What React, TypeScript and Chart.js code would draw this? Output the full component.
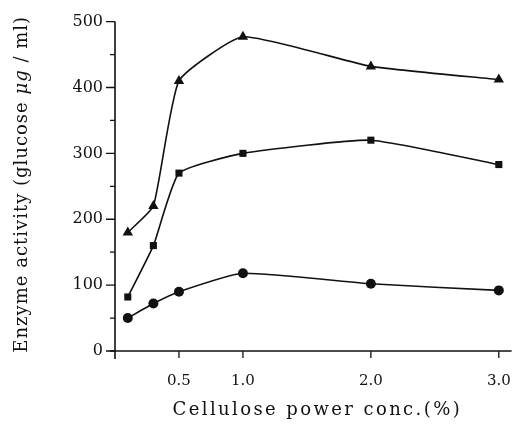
import React, { useEffect, useRef } from "react";
import { Chart, registerables } from "chart.js";

Chart.register(...registerables);

const concentrations = [0.1, 0.3, 0.5, 1.0, 2.0, 3.0];
const triangleSeries = [180, 220, 410, 477, 432, 412];
const squareSeries = [82, 160, 270, 300, 320, 283];
const circleSeries = [50, 72, 90, 118, 102, 92];
const xTickValues = [0.5, 1.0, 2.0, 3.0];
const yMajorTicks = [0, 100, 200, 300, 400, 500];
const yMinorTicks = [50, 150, 250, 350, 450];
const xTitle = "Cellulose power conc.(%)";
const yTitleParts = [
  { text: "Enzyme activity (glucose ", italic: false },
  { text: "μg", italic: true },
  { text: " / ml)", italic: false },
];

const FONT = "'DejaVu Serif', 'Liberation Serif', serif";
const INK = "#111";

const axesPlugin = {
  id: "sketchAxes",
  afterDraw(chart: any) {
    const { ctx, chartArea } = chart;
    const xs = chart.scales.x;
    const ys = chart.scales.y;
    const x0 = xs.getPixelForValue(0);
    const y0 = ys.getPixelForValue(0);
    const yTop = ys.getPixelForValue(500);
    ctx.save();
    ctx.strokeStyle = INK;
    ctx.lineWidth = 1.6;
    ctx.beginPath();
    ctx.moveTo(x0, yTop);
    ctx.lineTo(x0, y0 + 8);
    ctx.moveTo(x0 - 5, y0);
    ctx.lineTo(chartArea.right, y0);
    ctx.stroke();
    ctx.lineWidth = 1.3;
    ctx.beginPath();
    yMajorTicks.forEach((v) => {
      const p = ys.getPixelForValue(v);
      ctx.moveTo(x0 - 9, p);
      ctx.lineTo(x0, p);
    });
    yMinorTicks.forEach((v) => {
      const p = ys.getPixelForValue(v);
      ctx.moveTo(x0 - 5, p);
      ctx.lineTo(x0, p);
    });
    xTickValues.forEach((v) => {
      const p = xs.getPixelForValue(v);
      ctx.moveTo(p, y0);
      ctx.lineTo(p, y0 + 7);
    });
    ctx.stroke();

    ctx.fillStyle = INK;
    ctx.textBaseline = "middle";
    ctx.font = `18px ${FONT}`;
    (ctx as any).letterSpacing = "2.4px";
    ctx.textAlign = "center";
    ctx.fillText(xTitle, (chartArea.left + chartArea.right) / 2 + 4, 410);

    ctx.translate(22, (yTop + y0) / 2 - 2);
    ctx.rotate(-Math.PI / 2);
    (ctx as any).letterSpacing = "1px";
    ctx.textAlign = "left";
    const fonts = yTitleParts.map((p) => (p.italic ? `italic 18px ${FONT}` : `18px ${FONT}`));
    let total = 0;
    const widths = yTitleParts.map((p, i) => {
      ctx.font = fonts[i];
      const w = ctx.measureText(p.text).width;
      total += w;
      return w;
    });
    let cx = -total / 2;
    yTitleParts.forEach((p, i) => {
      ctx.font = fonts[i];
      ctx.fillText(p.text, cx, 0);
      cx += widths[i];
    });
    ctx.restore();
  },
};

function makeDataset(values: number[], pointStyle: string, radius: number) {
  return {
    data: values.map((v, i) => ({ x: concentrations[i], y: v })),
    borderColor: INK,
    backgroundColor: INK,
    borderWidth: 1.6,
    pointStyle,
    pointRadius: radius,
    pointBackgroundColor: INK,
    pointBorderColor: INK,
    pointBorderWidth: 0,
    tension: 0.15,
    clip: false as any,
  };
}

export default function App() {
  const canvasRef = useRef<HTMLCanvasElement | null>(null);

  useEffect(() => {
    if (!canvasRef.current) return;
    const chart = new Chart(canvasRef.current, {
      type: "line",
      data: {
        datasets: [
          makeDataset(triangleSeries, "triangle", 6),
          makeDataset(squareSeries, "rect", 5),
          makeDataset(circleSeries, "circle", 5),
        ],
      },
      options: {
        animation: false,
        responsive: true,
        maintainAspectRatio: false,
        layout: { padding: { top: 13, right: 8, left: 0, bottom: 0 } },
        plugins: { legend: { display: false }, tooltip: { enabled: false } },
        scales: {
          x: {
            type: "linear",
            min: 0,
            max: 3.1,
            grid: { display: false, drawTicks: false },
            border: { display: false },
            afterBuildTicks: (scale: any) => {
              scale.ticks = xTickValues.map((v) => ({ value: v }));
            },
            afterFit: (scale: any) => {
              scale.height = 75;
            },
            ticks: {
              color: INK,
              padding: 21,
              maxRotation: 0,
              font: { family: FONT, size: 15 },
              callback: (v: any) => Number(v).toFixed(1),
            },
          },
          y: {
            type: "linear",
            min: 0,
            max: 500,
            grid: { display: false, drawTicks: false },
            border: { display: false },
            afterBuildTicks: (scale: any) => {
              scale.ticks = yMajorTicks.map((v) => ({ value: v }));
            },
            afterFit: (scale: any) => {
              scale.width = 115;
            },
            ticks: {
              color: INK,
              padding: 12,
              font: { family: FONT, size: 16 },
            },
          },
        },
      },
      plugins: [axesPlugin],
    });
    return () => chart.destroy();
  }, []);

  return (
    <div style={{ position: "fixed", left: 0, top: 0, width: 532, height: 426, background: "#fff" }}>
      <canvas ref={canvasRef} />
    </div>
  );
}
